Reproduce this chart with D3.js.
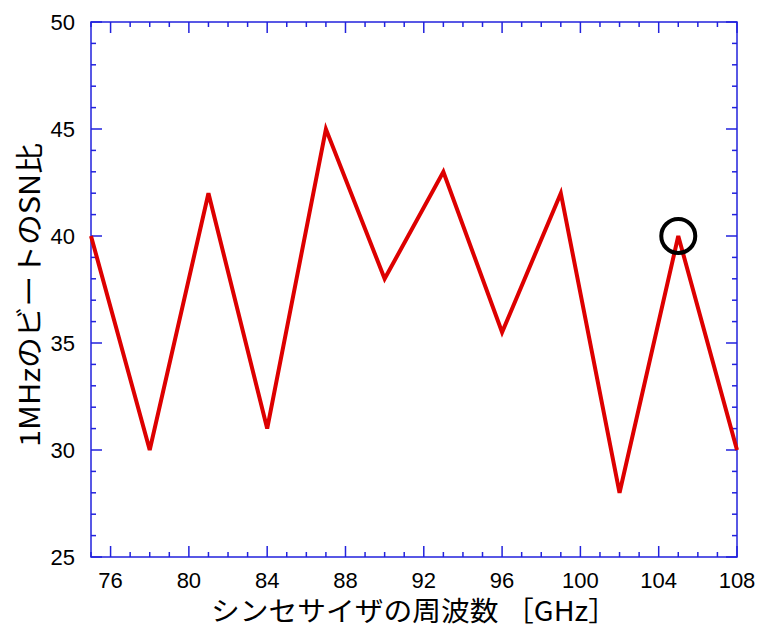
<!DOCTYPE html>
<html>
<head>
<meta charset="utf-8">
<script src="https://cdn.jsdelivr.net/npm/d3@7"></script>
<style>
  body { margin: 0; background: #fff; }
  .cjk { font-family: "Noto Sans CJK JP", sans-serif; }
  .num { font-family: "Liberation Sans", sans-serif; }
</style>
</head>
<body>
<svg id="chart" width="758" height="628"></svg>
<script>
// data
const freqs = [75, 78, 81, 84, 87, 90, 93, 96, 99, 102, 105, 108];
const snr = [40, 30, 42, 31, 45, 38, 43, 35.5, 42, 28, 40, 30];
const marked = [{ f: 105, v: 40 }];
const xTicks = [76, 80, 84, 88, 92, 96, 100, 104, 108];
const yTicks = [25, 30, 35, 40, 45, 50];

const svg = d3.select("#chart");
const m = { left: 91, right: 737, top: 22, bottom: 557 };

const x = d3.scaleLinear().domain([75, 108]).range([m.left, m.right]);
const y = d3.scaleLinear().domain([25, 50]).range([m.bottom, m.top]);

const axisColor = "#2222dd";

// inward ticks: minor every 1, major on labels
const g = svg.append("g").attr("stroke", axisColor).attr("stroke-width", 1.5);
d3.range(75, 109).forEach(v => {
    const len = v % 4 === 0 ? 11 : 5;
    g.append("line").attr("x1", x(v)).attr("x2", x(v)).attr("y1", m.bottom).attr("y2", m.bottom - len);
    g.append("line").attr("x1", x(v)).attr("x2", x(v)).attr("y1", m.top).attr("y2", m.top + len);
});
d3.range(25, 51).forEach(v => {
    const len = v % 5 === 0 ? 11 : 5;
    g.append("line").attr("y1", y(v)).attr("y2", y(v)).attr("x1", m.left).attr("x2", m.left + len);
    g.append("line").attr("y1", y(v)).attr("y2", y(v)).attr("x1", m.right).attr("x2", m.right - len);
});
g.append("rect")
    .attr("x", m.left).attr("y", m.top)
    .attr("width", m.right - m.left).attr("height", m.bottom - m.top)
    .attr("fill", "none");

// tick labels
svg.append("g").selectAll("text").data(xTicks).join("text")
    .attr("class", "num")
    .attr("x", d => x(d)).attr("y", 588)
    .attr("text-anchor", "middle")
    .attr("font-size", 22)
    .text(d => d);

svg.append("g").selectAll("text").data(yTicks).join("text")
    .attr("class", "num")
    .attr("x", 75).attr("y", d => y(d) + 8)
    .attr("text-anchor", "end")
    .attr("font-size", 22)
    .text(d => d);

// the series
const line = d3.line().x((d, i) => x(freqs[i])).y(d => y(d));
svg.append("path")
    .datum(snr)
    .attr("d", line)
    .attr("fill", "none")
    .attr("stroke", "#dd0000")
    .attr("stroke-width", 4)
    .attr("stroke-linejoin", "miter");

svg.selectAll(".mark").data(marked).join("circle")
    .attr("cx", d => x(d.f)).attr("cy", d => y(d.v))
    .attr("r", 17)
    .attr("fill", "none")
    .attr("stroke", "#000")
    .attr("stroke-width", 4);

// axis titles
svg.append("text")
    .attr("class", "cjk")
    .attr("x", 211).attr("y", 621)
    .attr("font-size", 27)
    .attr("textLength", 406)
    .attr("lengthAdjust", "spacingAndGlyphs")
    .text("シンセサイザの周波数 ［GHz］");

svg.append("text")
    .attr("class", "cjk")
    .attr("transform", "translate(40,447) rotate(-90)")
    .attr("font-size", 28)
    .attr("textLength", 304)
    .attr("lengthAdjust", "spacingAndGlyphs")
    .text("1MHzのビートのSN比");
</script>
</body>
</html>
